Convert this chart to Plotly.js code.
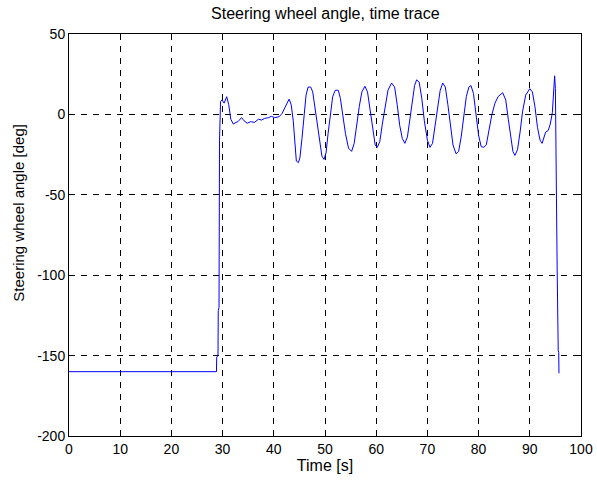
<!DOCTYPE html>
<html>
<head>
<meta charset="utf-8">
<script src="https://cdn.plot.ly/plotly-3.0.1.min.js"></script>
<style>html,body{margin:0;padding:0;background:#fff;}#chart{width:597px;height:481px;}</style>
</head>
<body>
<div id="chart"></div>
<script>
var timeS = [0,28.8,28.85,29.1,29.15,29.3,29.4,29.6,29.9,30.3,30.8,31.2,31.6,32.1,32.6,33.0,33.7,34.2,34.8,35.5,36.2,37.0,37.6,38.2,39.0,39.5,40.2,41.0,41.6,42.2,42.6,43.0,43.4,43.8,44.1,44.4,44.8,45.1,45.5,45.9,46.3,46.7,47.2,47.6,48.0,48.4,48.9,49.4,49.8,50.2,50.6,51.0,51.5,52.0,52.6,53.0,53.5,54.0,54.6,55.2,55.7,56.2,56.7,57.2,57.8,58.3,58.8,59.3,59.8,60.2,60.7,61.2,61.7,62.3,63.0,63.6,64.1,64.6,65.1,65.6,66.1,66.6,67.1,67.5,67.9,68.4,68.9,69.4,70.0,70.5,71.0,71.5,72.0,72.5,73.0,73.5,74.0,74.5,75.0,75.6,76.1,76.6,77.1,77.6,78.1,78.5,79.0,79.5,80.0,80.5,81.0,81.5,82.0,82.6,83.2,83.8,84.7,85.3,85.8,86.3,86.7,87.1,87.6,88.1,88.6,89.2,90.0,90.5,91.0,91.5,92.0,92.4,92.8,93.1,93.6,94.0,94.4,94.7,94.85,95.0,95.1,95.35,95.55,95.65,95.7];
var angleDeg = [-160,-160,-151,-150,-122,-120,-16,8,9,7,11,6,-3,-6,-5,-4.5,-2,-4,-5.5,-4.5,-5,-3,-3.5,-2.5,-2,-1.2,-2,-1.5,0.5,5,7,9.5,6,-4,-18,-29,-30,-27,-15,0,12,17,17,14,5,-6,-18,-26,-28,-24,-12,0,11,15,15,10,-2,-12,-21,-23,-18,-6,5,14,17.5,14,3,-10,-19,-20.5,-17,-6,5,15,19.5,17,6,-7,-15,-18,-14,-2,10,18,21.5,20,10,-4,-16,-20.5,-18,-7,5,15,19.5,17,6,-8,-19,-24.5,-23,-14,0,11,17,18,13,0,-13,-20,-20.5,-19,-10,0,7,11,13.5,9,-3,-15,-23,-25.5,-22,-11,2,12,16,14,5,-8,-16,-18,-14,-11,-10,-6,1,22,24,16,-33,-98,-147,-148,-161];
var xTicks = [0,10,20,30,40,50,60,70,80,90,100];
var yTicks = [-200,-150,-100,-50,0,50];

var fontFam = 'Arial, "Liberation Sans", sans-serif';
var axisCommon = {
  showline: true, linecolor: '#000', linewidth: 1, mirror: 'allticks',
  ticks: 'inside', ticklen: 5, tickcolor: '#000', tickwidth: 1,
  showgrid: true, gridcolor: '#000', gridwidth: 1, griddash: '6px,6px',
  zeroline: false, tickfont: {family: fontFam, size: 14, color: '#000'}
};
var layout = {
  width: 597, height: 481,
  margin: {l: 69, r: 16, t: 34, b: 45},
  paper_bgcolor: '#fff', plot_bgcolor: '#fff',
  showlegend: false,
  title: {text: 'Steering wheel angle, time trace', font: {family: fontFam, size: 16, color: '#000'}, x: 0.545, xanchor: 'center', y: 0.972, yanchor: 'middle'},
  xaxis: Object.assign({}, axisCommon, {range: [0, 100], tickvals: xTicks, ticktext: xTicks.map(String), ticklabelstandoff: 0,
    title: {text: 'Time [s]', font: {family: fontFam, size: 16, color: '#000'}, standoff: 0}}),
  yaxis: Object.assign({}, axisCommon, {range: [-200, 50], tickvals: yTicks, ticktext: yTicks.map(String)}),
  annotations: [{
    text: 'Steering wheel angle [deg]', textangle: -90, showarrow: false,
    xref: 'paper', yref: 'paper', x: -0.098, y: 0.555, xanchor: 'center', yanchor: 'middle',
    font: {family: fontFam, size: 15, color: '#000'}
  }]
};
var trace = {x: timeS, y: angleDeg, type: 'scatter', mode: 'lines', line: {color: '#0000ff', width: 1}, hoverinfo: 'skip'};
Plotly.newPlot('chart', [trace], layout, {staticPlot: true, displayModeBar: false});
</script>
</body>
</html>
